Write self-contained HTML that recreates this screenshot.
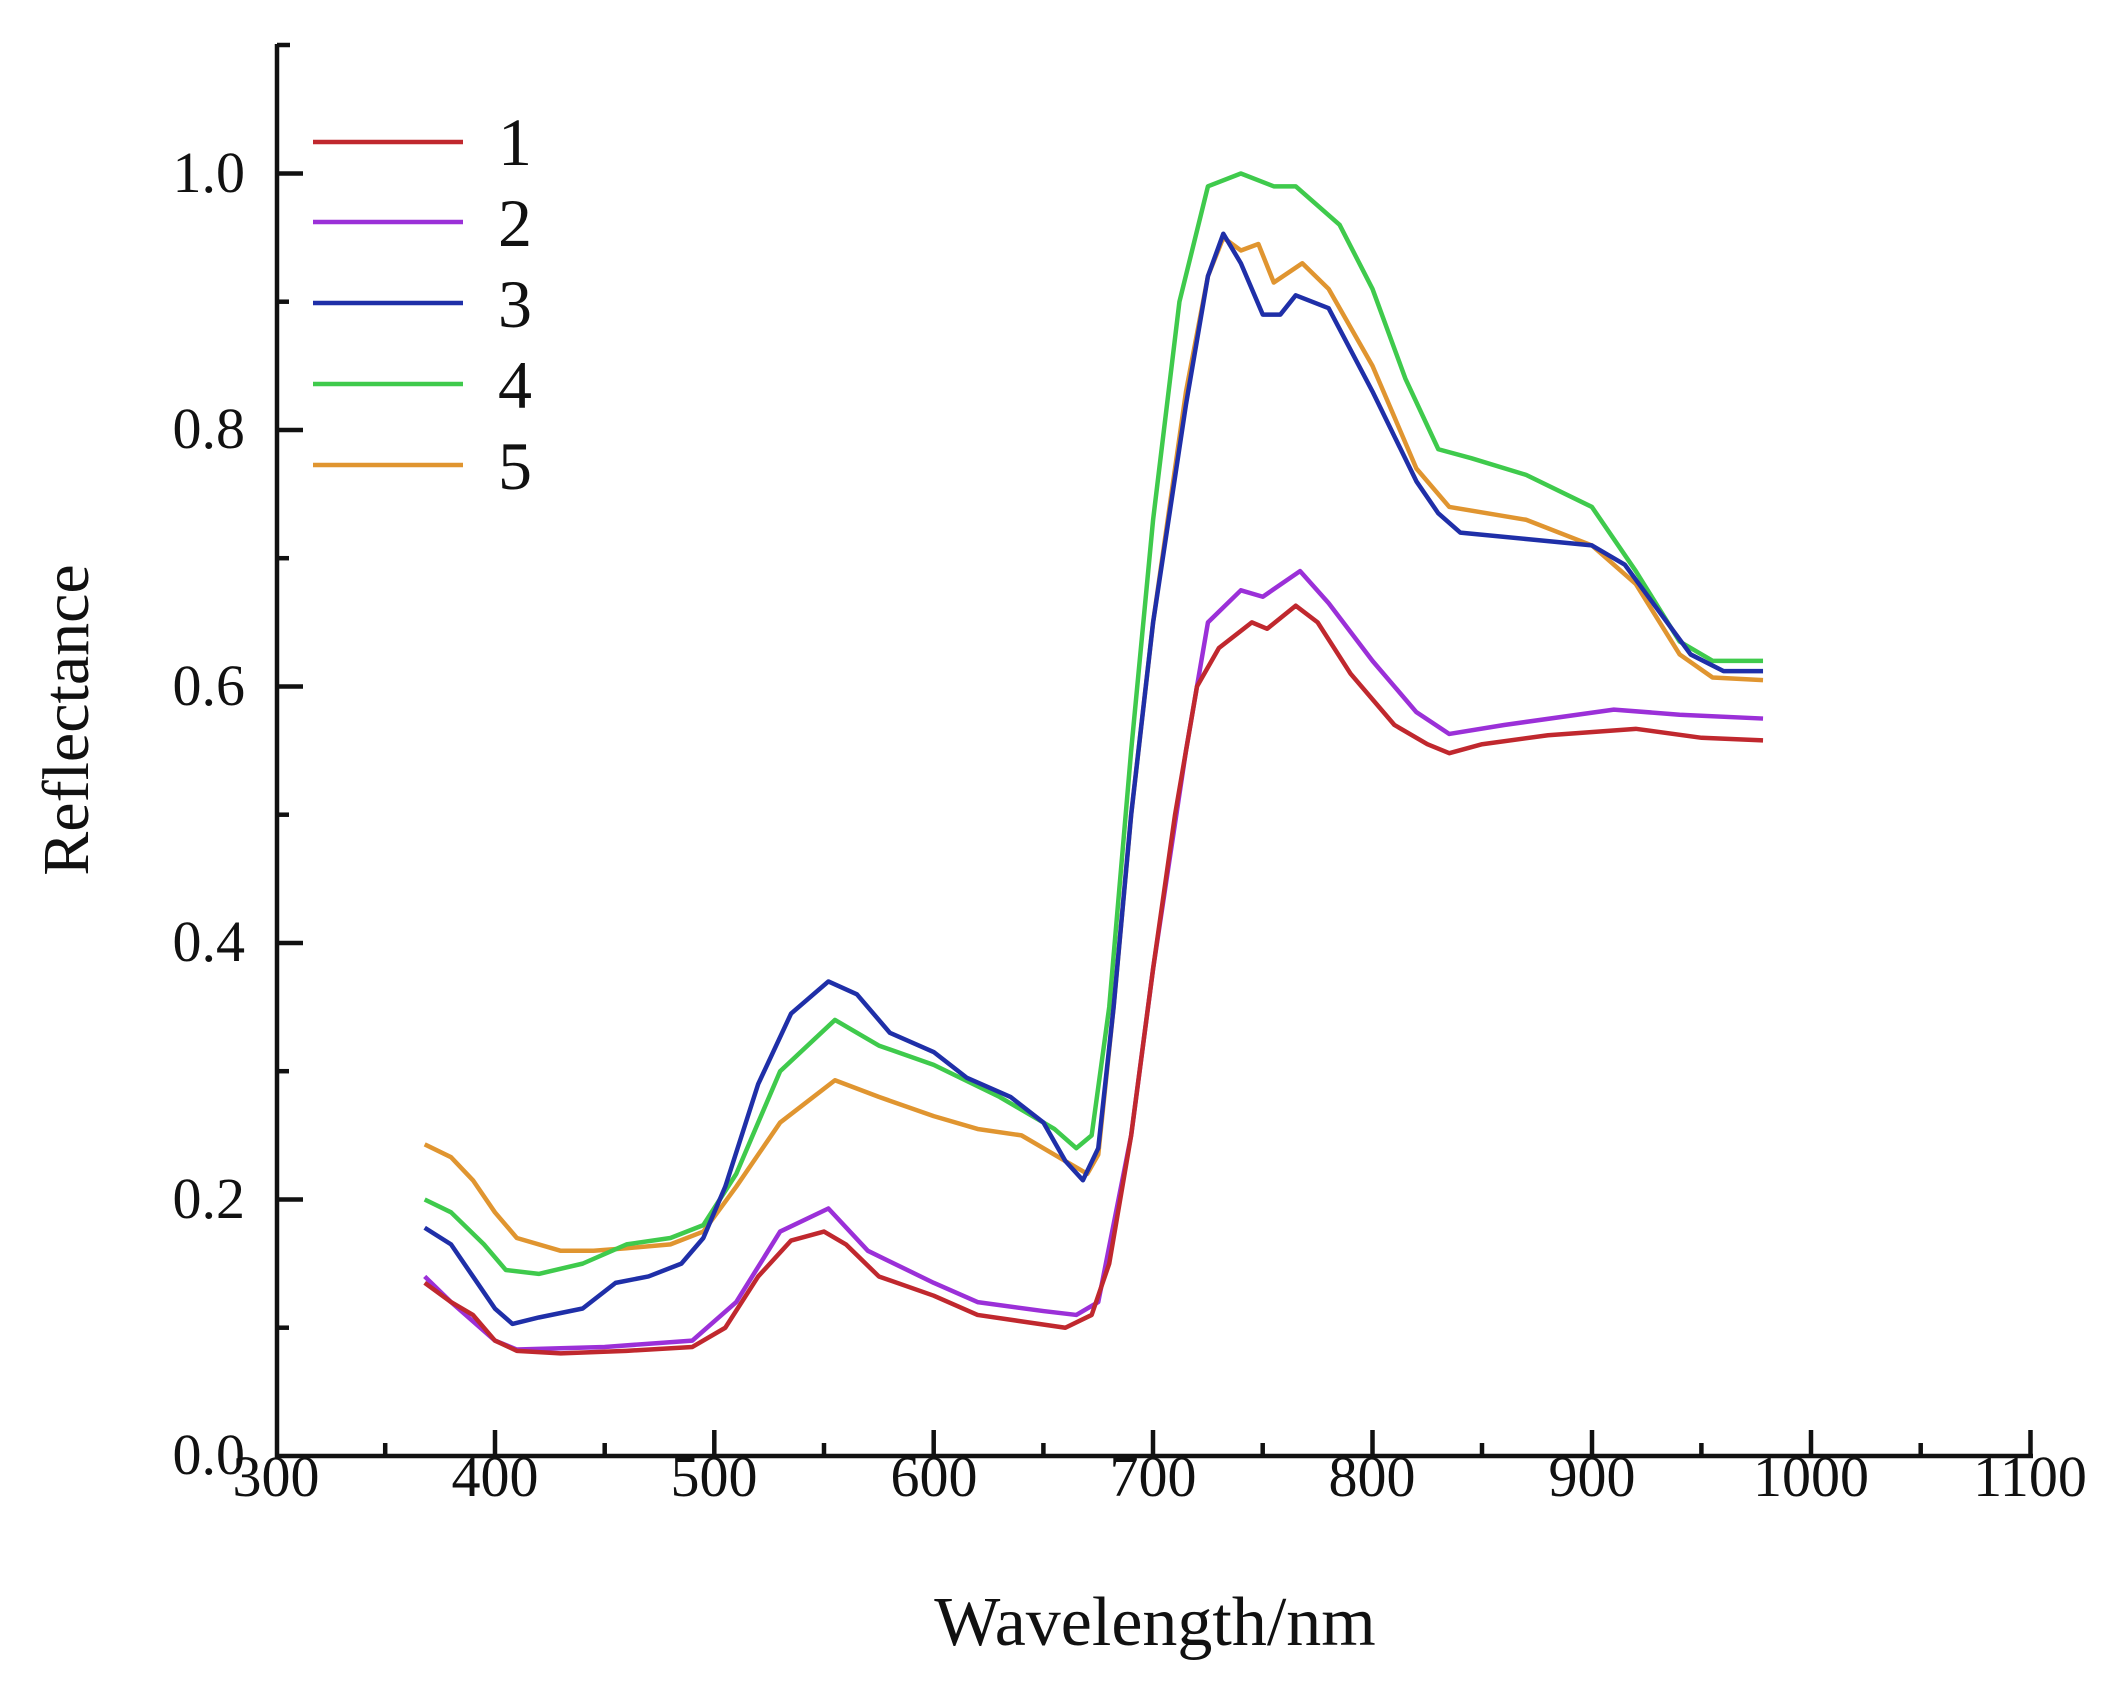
<!DOCTYPE html>
<html><head><meta charset="utf-8"><style>
html,body{margin:0;padding:0;background:#fff;}
svg{display:block;}
text{font-family:"Liberation Serif",serif;fill:#111;}
</style></head><body>
<svg width="2111" height="1691" viewBox="0 0 2111 1691" xmlns="http://www.w3.org/2000/svg">
<g stroke="#111" stroke-width="4.5" fill="none">
<line x1="277" y1="44" x2="277" y2="1458"/>
<line x1="275" y1="1456" x2="2033" y2="1456"/>
<line x1="277" y1="45" x2="290" y2="45"/>
<line x1="277" y1="1199.5" x2="303" y2="1199.5"/>
<line x1="277" y1="943" x2="303" y2="943"/>
<line x1="277" y1="686.5" x2="303" y2="686.5"/>
<line x1="277" y1="430" x2="303" y2="430"/>
<line x1="277" y1="173.5" x2="303" y2="173.5"/>
<line x1="277" y1="1327.7" x2="289" y2="1327.7"/>
<line x1="277" y1="1071.2" x2="289" y2="1071.2"/>
<line x1="277" y1="814.7" x2="289" y2="814.7"/>
<line x1="277" y1="558.2" x2="289" y2="558.2"/>
<line x1="277" y1="301.7" x2="289" y2="301.7"/>
<line x1="495" y1="1456" x2="495" y2="1430"/>
<line x1="714.3" y1="1456" x2="714.3" y2="1430"/>
<line x1="933.7" y1="1456" x2="933.7" y2="1430"/>
<line x1="1153" y1="1456" x2="1153" y2="1430"/>
<line x1="1372.5" y1="1456" x2="1372.5" y2="1430"/>
<line x1="1592" y1="1456" x2="1592" y2="1430"/>
<line x1="1811" y1="1456" x2="1811" y2="1430"/>
<line x1="2030.5" y1="1456" x2="2030.5" y2="1430"/>
<line x1="385.2" y1="1456" x2="385.2" y2="1443"/>
<line x1="604.7" y1="1456" x2="604.7" y2="1443"/>
<line x1="824" y1="1456" x2="824" y2="1443"/>
<line x1="1043.4" y1="1456" x2="1043.4" y2="1443"/>
<line x1="1262.7" y1="1456" x2="1262.7" y2="1443"/>
<line x1="1482" y1="1456" x2="1482" y2="1443"/>
<line x1="1701.4" y1="1456" x2="1701.4" y2="1443"/>
<line x1="1920.7" y1="1456" x2="1920.7" y2="1443"/>
</g>
<g font-size="58" text-anchor="end">
<text x="245" y="1474">0.0</text>
<text x="245" y="1218">0.2</text>
<text x="245" y="961">0.4</text>
<text x="245" y="705">0.6</text>
<text x="245" y="448">0.8</text>
<text x="245" y="192">1.0</text>
</g>
<g font-size="58" text-anchor="middle">
<text x="276" y="1496">300</text>
<text x="495" y="1496">400</text>
<text x="714" y="1496">500</text>
<text x="934" y="1496">600</text>
<text x="1153" y="1496">700</text>
<text x="1372" y="1496">800</text>
<text x="1592" y="1496">900</text>
<text x="1811" y="1496">1000</text>
<text x="2030" y="1496">1100</text>
</g>
<text x="1155" y="1645" font-size="70" text-anchor="middle">Wavelength/nm</text>
<text transform="translate(88,720) rotate(-90)" font-size="66" text-anchor="middle">Reflectance</text>
<g stroke-width="4.5">
<line x1="313" y1="142" x2="463" y2="142" stroke="#c0282e"/>
<line x1="313" y1="222" x2="463" y2="222" stroke="#9b30d8"/>
<line x1="313" y1="303" x2="463" y2="303" stroke="#1f2fa8"/>
<line x1="313" y1="384" x2="463" y2="384" stroke="#3fca4c"/>
<line x1="313" y1="465" x2="463" y2="465" stroke="#e09530"/>
</g>
<g font-size="68">
<text x="498" y="165">1</text>
<text x="498" y="246">2</text>
<text x="498" y="327">3</text>
<text x="498" y="408">4</text>
<text x="498" y="489">5</text>
</g>
<g transform="translate(275.5,1456) scale(2.194,-1282.5) translate(-300,0)" fill="none" stroke-width="4.5" stroke-linejoin="round">
<polyline vector-effect="non-scaling-stroke" stroke="#e09530" points="368,0.243 380,0.233 390,0.215 400,0.19 410,0.17 430,0.16 445,0.16 460,0.162 480,0.165 495,0.175 510,0.21 530,0.26 555,0.293 575,0.28 600,0.265 620,0.255 640,0.25 660,0.23 670,0.22 675,0.235 682,0.35 690,0.5 700,0.65 715,0.83 725,0.92 732,0.95 740,0.94 748,0.945 755,0.915 768,0.93 780,0.91 800,0.85 820,0.77 835,0.74 870,0.73 900,0.71 920,0.68 940,0.625 955,0.607 978,0.605"/>
<polyline vector-effect="non-scaling-stroke" stroke="#3fca4c" points="368,0.2 380,0.19 395,0.165 405,0.145 420,0.142 440,0.15 460,0.165 480,0.17 495,0.18 510,0.22 530,0.3 555,0.34 575,0.32 600,0.305 630,0.28 655,0.255 665,0.24 672,0.25 680,0.35 690,0.55 700,0.73 712,0.9 725,0.99 740,1.0 755,0.99 765,0.99 785,0.96 800,0.91 815,0.84 830,0.785 845,0.778 870,0.765 900,0.74 920,0.69 940,0.635 955,0.62 978,0.62"/>
<polyline vector-effect="non-scaling-stroke" stroke="#1f2fa8" points="368,0.178 380,0.165 390,0.14 400,0.115 408,0.103 420,0.108 440,0.115 455,0.135 470,0.14 485,0.15 495,0.17 505,0.21 520,0.29 535,0.345 552,0.37 565,0.36 580,0.33 600,0.315 615,0.295 635,0.28 650,0.26 660,0.23 668,0.215 675,0.24 682,0.35 690,0.5 700,0.65 715,0.82 725,0.92 732,0.953 740,0.93 750,0.89 758,0.89 765,0.905 780,0.895 800,0.83 820,0.76 830,0.735 840,0.72 870,0.715 900,0.71 915,0.695 930,0.66 945,0.625 960,0.612 978,0.612"/>
<polyline vector-effect="non-scaling-stroke" stroke="#9b30d8" points="368,0.14 380,0.12 400,0.09 410,0.083 450,0.085 490,0.09 510,0.12 530,0.175 552,0.193 570,0.16 600,0.135 620,0.12 650,0.113 665,0.11 675,0.12 690,0.25 700,0.38 715,0.55 725,0.65 740,0.675 750,0.67 767,0.69 780,0.665 800,0.62 820,0.58 835,0.563 860,0.57 910,0.582 940,0.578 978,0.575"/>
<polyline vector-effect="non-scaling-stroke" stroke="#c0282e" points="368,0.135 380,0.12 390,0.11 400,0.09 410,0.082 430,0.08 460,0.082 490,0.085 505,0.1 520,0.14 535,0.168 550,0.175 560,0.165 575,0.14 600,0.125 620,0.11 640,0.105 660,0.1 672,0.11 680,0.15 690,0.25 700,0.38 710,0.5 720,0.6 730,0.63 745,0.65 752,0.645 765,0.663 775,0.65 790,0.61 810,0.57 825,0.555 835,0.548 850,0.555 880,0.562 920,0.567 950,0.56 978,0.558"/>
</g>
</svg>
</body></html>
